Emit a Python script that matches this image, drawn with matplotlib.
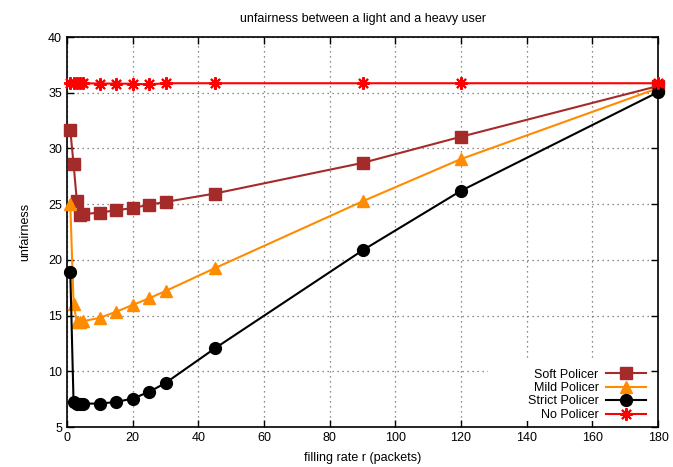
import matplotlib
matplotlib.use("Agg")
import matplotlib.pyplot as plt
from matplotlib.patches import Rectangle

x = [1, 2, 3, 4, 5, 10, 15, 20, 25, 30, 45, 90, 120, 180]
soft = [31.65, 28.6, 25.3, 24.05, 24.1, 24.25, 24.45, 24.65, 24.95, 25.2, 25.95, 28.7, 31.05, 35.6]
mild = [25.0, 16.05, 14.4, 14.45, 14.5, 14.8, 15.35, 15.95, 16.55, 17.2, 19.25, 25.25, 29.05, 35.4]
strict = [18.9, 7.2, 7.1, 7.1, 7.1, 7.1, 7.25, 7.55, 8.15, 8.95, 12.05, 20.85, 26.2, 35.05]
nopol = [35.85, 35.85, 35.85, 35.85, 35.85, 35.82, 35.82, 35.8, 35.75, 35.85, 35.85, 35.85, 35.85, 35.85]

labels = ["Soft Policer", "Mild Policer", "Strict Policer", "No Policer"]
xticks = [0, 20, 40, 60, 80, 100, 120, 140, 160, 180]
yticks = [5, 10, 15, 20, 25, 30, 35, 40]

plt.rcParams['font.family'] = ['Liberation Sans', 'DejaVu Sans']
plt.rcParams['font.size'] = 9

W, H = 673, 467
L, R, T, B = 67, 658, 37, 427
fig = plt.figure(figsize=(W / 100, H / 100), dpi=100)
ax = fig.add_axes([L / W, 1 - B / H, (R - L) / W, (B - T) / H])

ax.plot(x, soft, color='#a52a2a', lw=1.5, marker='s', ms=8.5, label=labels[0], clip_on=False, zorder=3)
ax.plot(x, mild, color='#ff8c00', lw=1.5, marker='^', ms=8, label=labels[1], clip_on=False, zorder=3)
ax.plot(x, strict, color='black', lw=1.5, marker='o', ms=8.5, label=labels[2], clip_on=False, zorder=3)
ax.plot(x, nopol, color='red', lw=1.5, marker=(8, 2, 0), ms=9, mew=1.5, label=labels[3], clip_on=False, zorder=3)

ax.set_xlim(0, 180)
ax.set_ylim(5, 40)
ax.set_xticks(xticks)
ax.set_yticks(yticks)
ax.tick_params(direction='in', top=True, right=True, length=5, width=1, labelsize=9)
ax.grid(True, linestyle=(0, (1, 3)), color='#666666', linewidth=0.9)
for s in ax.spines.values():
    s.set_linewidth(1.2)

# blank key area (covers grid like the gnuplot key box)
def ax_x(px):
    return (px - L) / (R - L)
def ax_y(py):
    return (B - py) / (B - T)
ax.add_patch(Rectangle((ax_x(488), ax_y(421)), ax_x(650) - ax_x(488), ax_y(361) - ax_y(421),
                       transform=ax.transAxes, facecolor='white', edgecolor='none', zorder=2))

ax.set_title("unfairness between a light and a heavy user", fontsize=9, pad=11)
ax.set_xlabel("filling rate r (packets)", fontsize=9, labelpad=6)
ax.set_ylabel("unfairness", fontsize=9, labelpad=12)

leg = ax.legend(loc='lower right', bbox_to_anchor=(ax_x(646), ax_y(421)), markerfirst=False,
                handlelength=3.2, fontsize=9, frameon=False,
                labelspacing=0.12, handletextpad=0.6, borderpad=0.0, borderaxespad=0.0)
leg.set_zorder(5)
for t in leg.get_texts():
    t.set_ha('right')

fig.savefig("out.png", dpi=100)
